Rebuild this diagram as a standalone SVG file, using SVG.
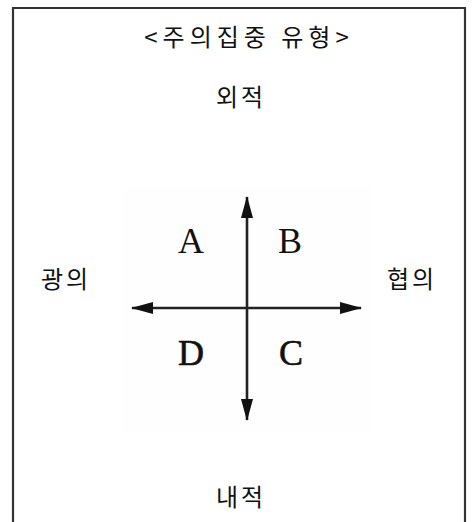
<svg xmlns="http://www.w3.org/2000/svg" width="476" height="522" viewBox="0 0 476 522">
<defs>
<style>
.k{font-family:"Noto Sans CJK KR","Noto Sans",sans-serif;font-size:24px;fill:#111;text-anchor:middle}
.l{font-family:"Liberation Serif",serif;font-size:36px;fill:#111;text-anchor:middle}
.ax{stroke:#222;stroke-width:2.6;fill:none}
.frame{stroke:#333;stroke-width:2.2;fill:none}
</style>
<marker id="ah" viewBox="0 0 22 12" refX="21" refY="6" markerWidth="22" markerHeight="12" markerUnits="userSpaceOnUse" orient="auto">
<path d="M0,0 L22,6 L0,12 Z" fill="#111"/>
</marker>
</defs>
<rect width="476" height="522" fill="#fff"/>
<path class="frame" d="M13,522 V8 H465 V522"/>
<rect x="122" y="186" width="250" height="246" fill="#fefefe"/>
<g id="title"><text class="k" x="249" y="46" letter-spacing="5">&lt;주의집중 유형&gt;</text></g>
<g id="outer"><text class="k" x="241" y="106" letter-spacing="3">외적</text></g>
<g id="broad"><text class="k" x="66" y="288" letter-spacing="3">광의</text></g>
<g id="narrow"><text class="k" x="412" y="288" letter-spacing="3">협의</text></g>
<g id="inner"><text class="k" x="241" y="506" letter-spacing="3">내적</text></g>
<g id="connectors">
<line class="ax" x1="247" y1="308" x2="247" y2="197" marker-end="url(#ah)"/>
<line class="ax" x1="247" y1="308" x2="247" y2="420" marker-end="url(#ah)"/>
<line class="ax" x1="247" y1="308" x2="132" y2="308" marker-end="url(#ah)"/>
<line class="ax" x1="247" y1="308" x2="361" y2="308" marker-end="url(#ah)"/>
</g>
<g id="A"><text class="l" x="191" y="253">A</text></g>
<g id="B"><text class="l" x="290" y="253">B</text></g>
<g id="D"><text class="l" x="191" y="365" stroke="#111" stroke-width="0.6">D</text></g>
<g id="C"><text class="l" x="291" y="365" stroke="#111" stroke-width="0.6">C</text></g>
</svg>
